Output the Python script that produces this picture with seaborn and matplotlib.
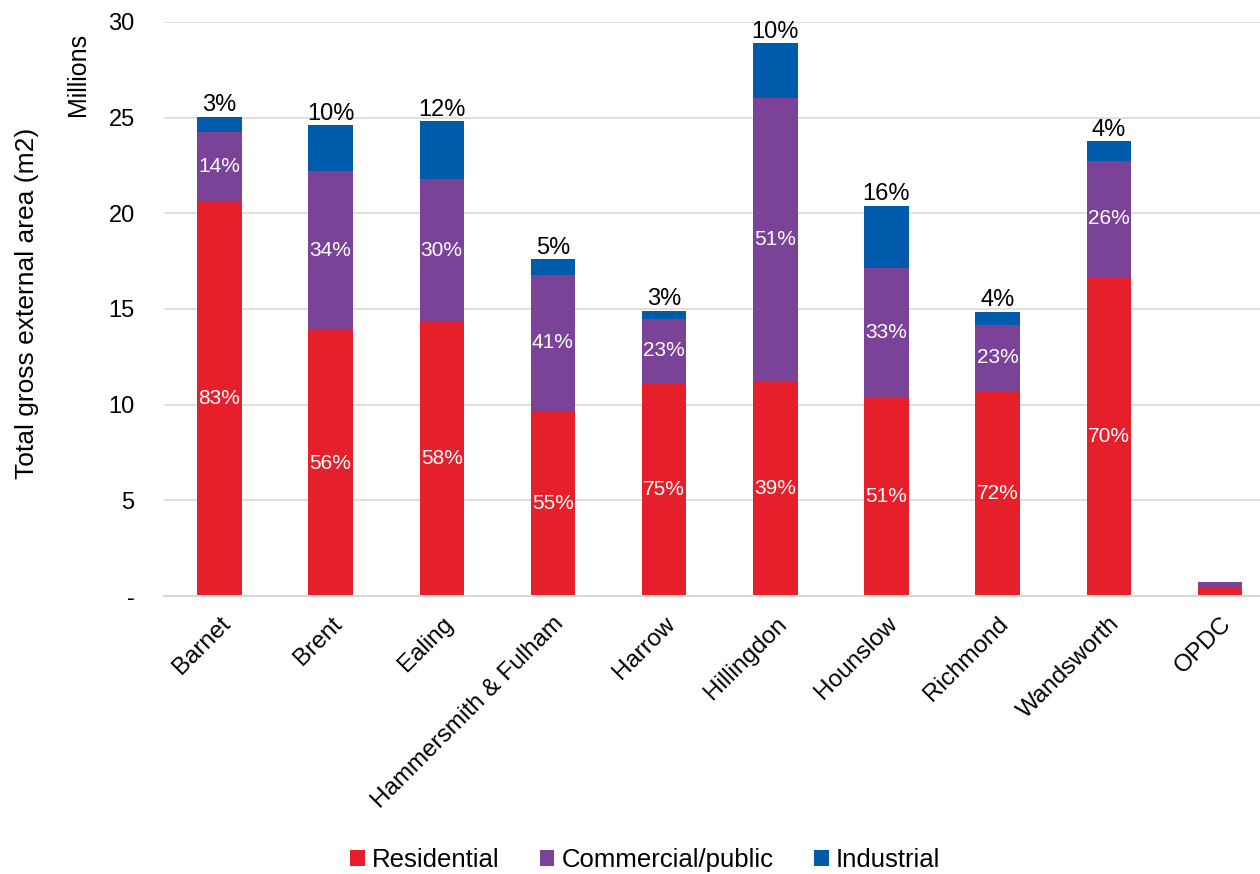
import matplotlib
matplotlib.use("Agg")
import matplotlib.pyplot as plt
import seaborn as sns
import pandas as pd
import numpy as np

boroughs = ["Barnet", "Brent", "Ealing", "Hammersmith & Fulham", "Harrow",
            "Hillingdon", "Hounslow", "Richmond", "Wandsworth", "OPDC"]
residential = [20.65, 13.90, 14.35, 9.67, 11.13, 11.24, 10.42, 10.72, 16.68, 0.40]
commercial = [3.60, 8.30, 7.42, 7.11, 3.35, 14.79, 6.73, 3.45, 6.06, 0.35]
industrial = [0.79, 2.40, 3.05, 0.82, 0.42, 2.87, 3.25, 0.68, 1.04, 0.0]

res_pct = ["83%", "56%", "58%", "55%", "75%", "39%", "51%", "72%", "70%", ""]
com_pct = ["14%", "34%", "30%", "41%", "23%", "51%", "33%", "23%", "26%", ""]
ind_pct = ["3%", "10%", "12%", "5%", "3%", "10%", "16%", "4%", "4%", ""]

RED = "#E5202A"
PURPLE = "#7B4397"
BLUE = "#005BAA"

df = pd.DataFrame({"borough": boroughs, "res": residential,
                   "com": commercial, "ind": industrial})
df["res_com"] = df["res"] + df["com"]
df["total"] = df["res_com"] + df["ind"]

sns.set_style("white")
plt.rcParams["font.family"] = ["Liberation Sans", "DejaVu Sans"]
plt.rcParams["text.color"] = "black"
plt.rcParams["xtick.color"] = "black"
plt.rcParams["ytick.color"] = "black"
plt.rcParams["axes.labelcolor"] = "black"

fig = plt.figure(figsize=(12.6, 8.74), dpi=100)
ax = fig.add_axes([0.130, 0.318, 0.870, 0.657])

sns.barplot(data=df, x="borough", y="total", color=BLUE, width=0.4,
            saturation=1, ax=ax, zorder=2, label="Industrial", linewidth=0)
sns.barplot(data=df, x="borough", y="res_com", color=PURPLE, width=0.4,
            saturation=1, ax=ax, zorder=2, label="Commercial/public", linewidth=0)
sns.barplot(data=df, x="borough", y="res", color=RED, width=0.4,
            saturation=1, ax=ax, zorder=2, label="Residential", linewidth=0)

for i, row in df.iterrows():
    if res_pct[i]:
        ax.text(i, row["res"] / 2, res_pct[i], ha="center", va="center",
                color="white", fontsize=15, zorder=3)
    if com_pct[i]:
        ax.text(i, row["res"] + row["com"] / 2, com_pct[i], ha="center",
                va="center", color="white", fontsize=15, zorder=3)
    if ind_pct[i]:
        ax.text(i, row["total"] + 0.02, ind_pct[i], ha="center", va="bottom",
                color="black", fontsize=17, zorder=3)

ax.set_ylim(0, 30)
ax.set_xlim(-0.5, 9.36)
ax.set_yticks([0, 5, 10, 15, 20, 25, 30])
ax.set_yticklabels(["-", "5", "10", "15", "20", "25", "30"], fontsize=17)
ax.yaxis.grid(True, color="#D9D9D9", linewidth=1.2, zorder=0)
ax.set_axisbelow(True)
for s in ["top", "right", "left"]:
    ax.spines[s].set_visible(False)
ax.spines["bottom"].set_color("#D9D9D9")
ax.spines["bottom"].set_linewidth(1.5)
ax.tick_params(axis="both", length=0)
ax.tick_params(axis="x", pad=12)
ax.tick_params(axis="y", pad=21)
ax.set_xlabel("")
ax.set_ylabel("Total gross external area (m2)", fontsize=19)
ax.yaxis.set_label_coords(-0.114, 0.51)
plt.setp(ax.get_xticklabels(), rotation=45, ha="right",
         rotation_mode="anchor", fontsize=17.5)

fig.text(0.062, 0.915, "Millions", rotation=90, ha="center", va="center",
         fontsize=18)

handles, labels = ax.get_legend_handles_labels()
order = [labels.index("Residential"), labels.index("Commercial/public"),
         labels.index("Industrial")]
ax.legend([handles[k] for k in order], [labels[k] for k in order],
          loc="center", bbox_to_anchor=(0.512, 0.016), bbox_transform=fig.transFigure,
          ncol=3, frameon=False, fontsize=18.5, handlelength=0.55,
          handleheight=0.55, handletextpad=0.27, columnspacing=1.6)

fig.savefig("out.png", dpi=100)
